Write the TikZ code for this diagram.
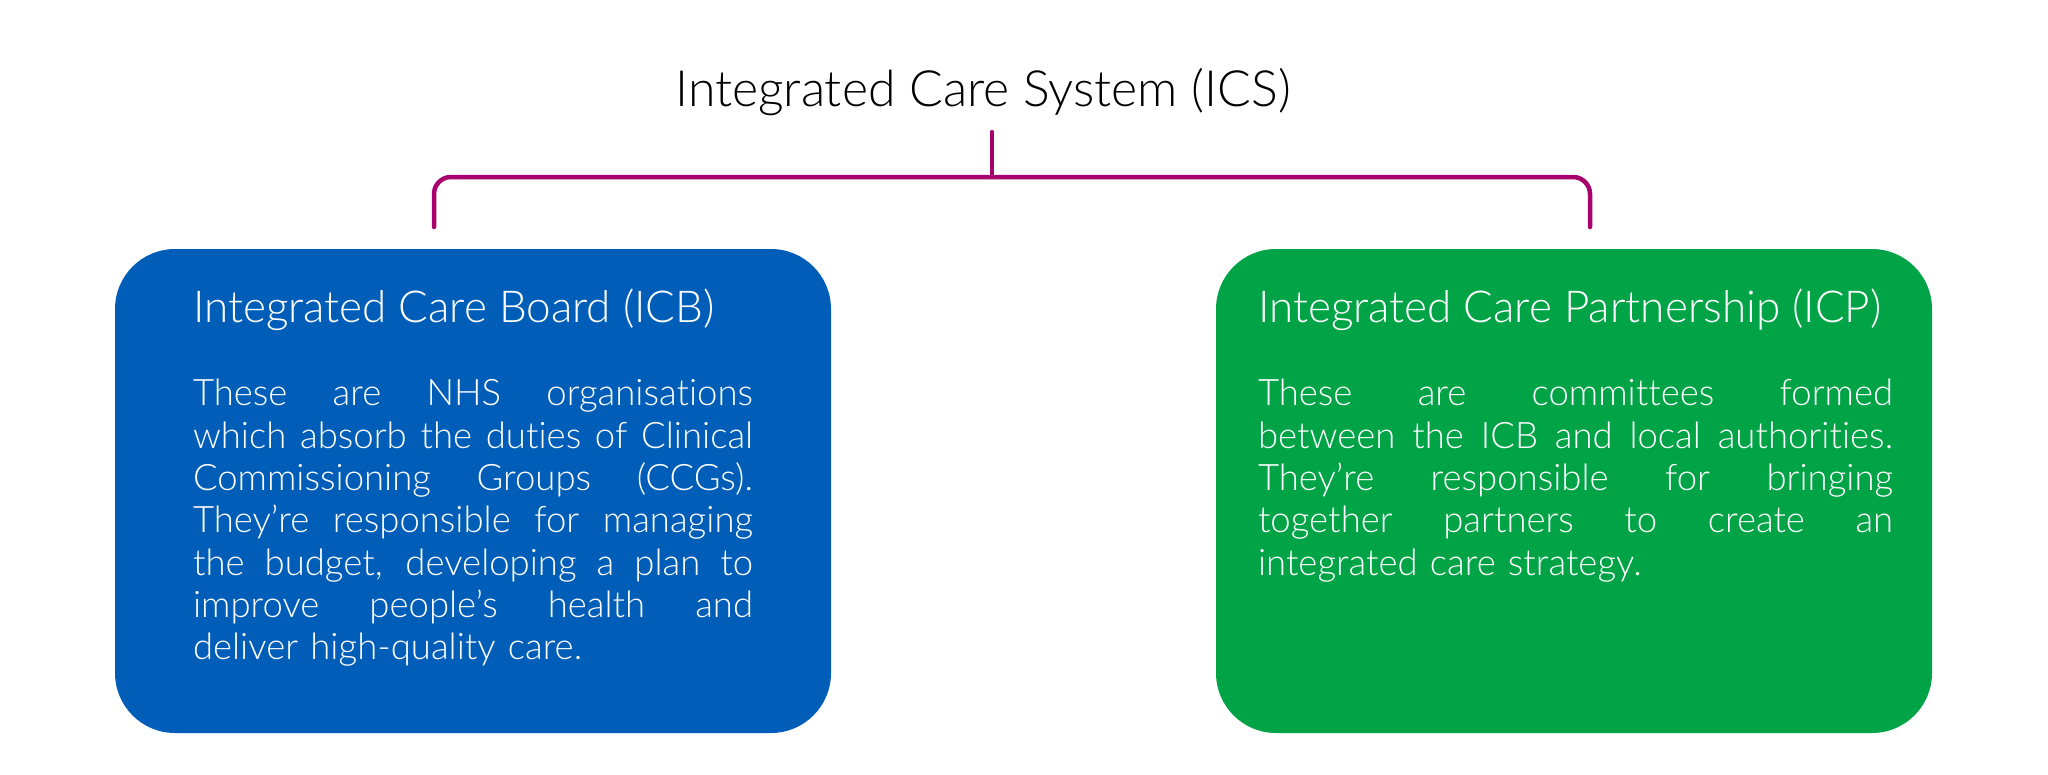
\documentclass[tikz,border=0pt]{standalone}
\usepackage{fontspec}
\IfFontExistsTF{Lato Light}{\setmainfont{Lato Light}[Ligatures={TeX,NoCommon}]}{\setmainfont{Lato}[Ligatures={TeX,NoCommon}]}
\usetikzlibrary{calc}
\definecolor{icsblue}{HTML}{005EB8}
\definecolor{icsgreen}{HTML}{00A446}
\definecolor{icspink}{HTML}{A8006C}
% one justified line of a box text
\newcommand{\fitline}[1]{\makebox[\hsize][s]{\spaceskip=0pt\xspaceskip=0pt #1}}
\tikzset{
  board/.style={
    fill=#1,
    draw=none,
    rounded corners=60pt,
    minimum width=716pt,
    minimum height=484pt
  },
  board/.default={icsblue},
%
  systitle/.style={
    text=black,
    anchor=base,
    inner sep=0pt,
    font=\fontsize{50}{60}\selectfont
  },
%
  heading/.style={
    text=white,
    anchor=base west,
    inner sep=0pt,
    font=\fontsize{44}{52}\selectfont
  },
%
  blurb/.style={
    text=white,
    anchor=base west,
    inner sep=0pt,
    text width=#1,
    align=left,
    font=\fontsize{36.5}{42.3}\selectfont
  },
  blurb/.default={560pt},
%
  bracket/.style={
    draw=icspink,
    line width=4.5pt,
    line cap=round,
    rounded corners=17pt
  },
}

\begin{document}
\begin{tikzpicture}[x=1pt,y=1pt]
\useasboundingbox (0,0) rectangle (2048,-774);

\node[systitle] at (983,-106) (ics) {Integrated Care System (ICS)};
\node[board=icsblue] at (473,-491) (icb) {};
\node[board=icsgreen] at (1574,-491) (icp) {};

\node[heading] at ($(icb.north west)+(78,-74)$) (icbhead) {Integrated Care Board (ICB)};
\node[blurb=560pt] at ($(icb.north west)+(78,-157)$) (icbtext) {%
\fitline{These are NHS organisations}\\
\fitline{which absorb the duties of Clinical}\\
\fitline{Commissioning Groups (CCGs).}\\
\fitline{They’re responsible for managing}\\
\fitline{the budget, developing a plan to}\\
\fitline{improve people’s health and}\\
deliver high-quality care.};

\node[heading] at ($(icp.north west)+(42,-74)$) (icphead) {Integrated Care Partnership (ICP)};
\node[blurb=635pt] at ($(icp.north west)+(42,-157)$) (icptext) {%
\fitline{These are committees formed}\\
\fitline{between the ICB and local authorities.}\\
\fitline{They’re responsible for bringing}\\
\fitline{together partners to create an}\\
integrated care strategy.};

\coordinate (stem) at (992,-132);
\coordinate (fork) at (992,-177);
\coordinate (icbleg) at (434,-227);
\coordinate (icpleg) at (1590,-227);
\draw[bracket] (stem) -- (fork);
\draw[bracket] (icbleg) |- (fork) -| (icpleg);

\end{tikzpicture}
\end{document}
